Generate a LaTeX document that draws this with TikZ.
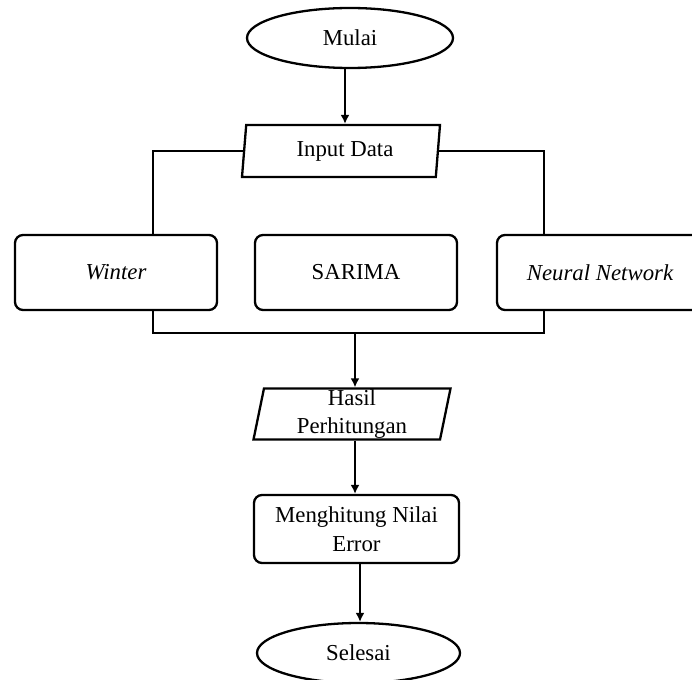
\documentclass[tikz,border=0pt]{standalone}
\usepackage{fontspec}
\setmainfont{Liberation Serif}
\usetikzlibrary{shapes.geometric,arrows.meta}
\tikzset{
  base/.style={draw=black, line width=2.3pt, inner sep=0pt, align=center,
    font=\fontsize{22.8}{28.5}\selectfont},
  term/.style={base, ellipse},
  io/.style={base, trapezium, trapezium left angle=78, trapezium right angle=102,
    trapezium stretches body},
  proc/.style={base, rectangle, rounded corners=8pt},
  link/.style={line width=2.5pt},
  arr/.style={link, -{Latex[length=9pt,width=9pt]}}
}
\begin{document}
\begin{tikzpicture}[x=1pt,y=-1pt]
\useasboundingbox (0,0) rectangle (692,679);
\node[term, minimum width=206pt, minimum height=60pt] (mulai) at (350,38) {Mulai};
\node[io, minimum width=198pt, minimum height=52pt] (in) at (341,151) {\hspace*{8pt}Input Data};
\node[proc, minimum width=202pt, minimum height=75pt] (winter) at (116,272.5) {\itshape Winter};
\node[proc, minimum width=202pt, minimum height=75pt] (sarima) at (356,272.5) {SARIMA};
\node[proc, minimum width=206pt, minimum height=75pt] (nn) at (600,272.5) {\itshape Neural Network};
\node[io, minimum width=197pt, minimum height=51pt] (hasil) at (352,414) {Hasil\\Perhitungan};
\node[proc, minimum width=205pt, minimum height=68pt] (hitung) at (356.5,529) {Menghitung Nilai\\Error};
\node[term, minimum width=203pt, minimum height=60pt] (selesai) at (358.5,653) {Selesai};
\coordinate (join) at (355,333);

\draw[arr] ([xshift=-5pt]mulai.south) -- ([xshift=-5pt]mulai.south |- in.north);
\draw[link] (in.west) -| ([xshift=37pt]winter.north);
\draw[link] (in.east) -| ([xshift=-56pt]nn.north);
\draw[link] ([xshift=37pt]winter.south) |- (join) -| ([xshift=-56pt]nn.south);
\draw[arr] (join) -- (join |- hasil.north);
\draw[arr] ([xshift=3pt]hasil.south) -- ([xshift=3pt]hasil.south |- hitung.north);
\draw[arr] ([xshift=3.5pt]hitung.south) -- ([xshift=3.5pt]hitung.south |- selesai.north);
\end{tikzpicture}
\end{document}
